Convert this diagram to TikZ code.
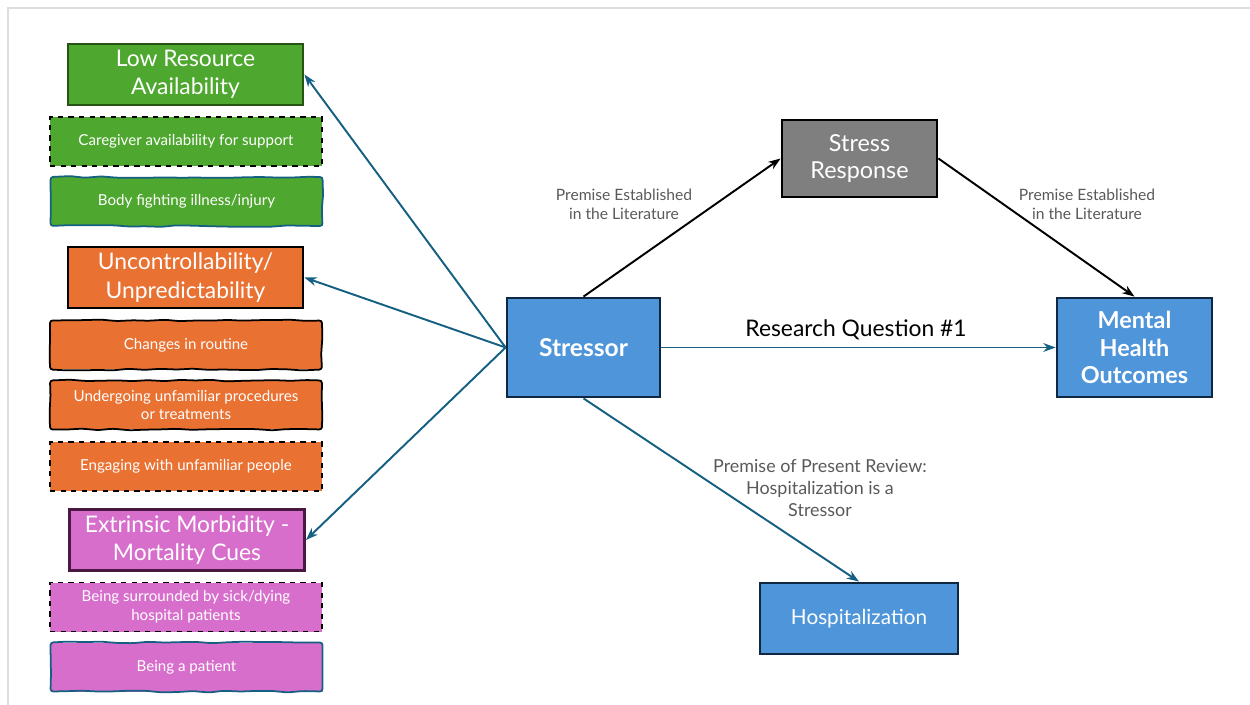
\documentclass[tikz,border=0pt]{standalone}
\usepackage{fontspec}
\setmainfont{Lato}
\usepackage{tikz}
\usetikzlibrary{arrows.meta}
\usetikzlibrary{decorations.pathmorphing}
\definecolor{leafgreen}{HTML}{4EA72E}
\definecolor{darkgreen}{HTML}{275317}
\definecolor{orangefill}{HTML}{E97132}
\definecolor{pinkfill}{HTML}{D86ECC}
\definecolor{darkplum}{HTML}{4A1942}
\definecolor{boxblue}{HTML}{4E95D9}
\definecolor{navy}{HTML}{0E2841}
\definecolor{teal}{HTML}{156082}
\definecolor{greybox}{HTML}{7F7F7F}
\definecolor{notegrey}{HTML}{595959}
\def\u{0.02cm}

\begin{document}
\begin{tikzpicture}[x=\u, y=-\u,
	head/.style={draw, line width=1.6pt, text=white, align=center, inner sep=0pt,
		minimum width=235*\u, minimum height=61*\u, font=\fontsize{13}{16}\selectfont},
	sub/.style={text=white, align=center, inner sep=0pt, minimum width=272*\u,
		minimum height=49*\u, font=\fontsize{8.6}{10.8}\selectfont},
	dashbox/.style={sub, draw=black, dashed, line width=0.8pt},
	wavybox/.style={sub, postaction={draw=#1, line width=1pt, rounded corners=1.5pt,
		decorate, decoration={random steps, segment length=9pt, amplitude=0.55pt}}},
	mainbox/.style={draw=navy, fill=boxblue, line width=1.6pt, text=white, align=center,
		inner sep=0pt, font=\fontsize{13.3}{15.6}\selectfont},
	link/.style={-{Stealth[length=7pt, width=5pt]}, line width=1.1pt, draw=teal},
	blacklink/.style={-{Stealth[length=7pt, width=5pt]}, line width=1.1pt, draw=black},
	note/.style={text=notegrey, align=center, font=\fontsize{8.9}{10.8}\selectfont}]
	\useasboundingbox (0,0) rectangle (1250,705);
	% frame of the slide
	\draw[line width=0.8pt, black!13] (8,705) -- (8,8) -- (1250,8);

	% left column
	\node[head, fill=leafgreen, draw=darkgreen] (lowres) at (185.5,74.5) {Low Resource\\Availability};
	\node[dashbox, fill=leafgreen] (caregiver) at (186,141.5) {Caregiver availability for support};
	\node[wavybox=teal, fill=leafgreen] (bodyfight) at (186.5,201.5) {Body fighting illness/injury};
	\node[head, fill=orangefill, draw=black] (uncontrol) at (185.5,277.5) {Uncontrollability/\\Unpredictability};
	\node[wavybox=black, fill=orangefill] (routine) at (186,345) {Changes in routine};
	\node[wavybox=black, fill=orangefill] (procedures) at (186,405) {Undergoing unfamiliar procedures\\or treatments};
	\node[dashbox, fill=orangefill] (people) at (186,466.5) {Engaging with unfamiliar people};
	\node[head, fill=pinkfill, draw=darkplum] (extrinsic) at (187,540) {Extrinsic Morbidity -\\Mortality Cues};
	\node[dashbox, fill=pinkfill] (surrounded) at (186,607) {Being surrounded by sick/dying\\hospital patients};
	\node[wavybox=teal, fill=pinkfill] (patient) at (186.5,667) {Being a patient};

	% model
	\node[mainbox, minimum width=153*\u, minimum height=99*\u] (stressor) at (583.5,347.5)
		{\fontsize{14}{16}\selectfont\bfseries Stressor};
	\node[mainbox, draw=black, fill=greybox, minimum width=155*\u, minimum height=77*\u] (response) at (859.5,158.5)
		{Stress\\Response};
	\node[mainbox, minimum width=155*\u, minimum height=99*\u] (outcomes) at (1134.5,347.5)
		{\bfseries Mental\\\bfseries Health\\\bfseries Outcomes};
	\node[mainbox, minimum width=198*\u, minimum height=71*\u, font=\fontsize{11.8}{14}\selectfont] (hospital) at (859,618.5) {Hospitalization};

	% connectors
	\draw[link] (stressor.west) -- (lowres.east);
	\draw[link] (stressor.west) -- (uncontrol.east);
	\draw[link] (stressor.west) -- (extrinsic.east);
	\draw[blacklink] (stressor.north) -- (response.west);
	\draw[blacklink] (response.east) -- (outcomes.north);
	\draw[link] (stressor.east) -- (outcomes.west);
	\draw[link] (stressor.south) -- (hospital.north);

	% labels
	\node[note] (litleft) at (624,204) {Premise Established\\in the Literature};
	\node[note] (litright) at (1087,204) {Premise Established\\in the Literature};
	\node[font=\fontsize{13}{15}\selectfont] (rq) at (856,330) {Research Question \#1};
	\node[note, font=\fontsize{10.2}{12.5}\selectfont] (premise) at (820,488)
		{Premise of Present Review:\\Hospitalization is a\\Stressor};
\end{tikzpicture}
\end{document}
